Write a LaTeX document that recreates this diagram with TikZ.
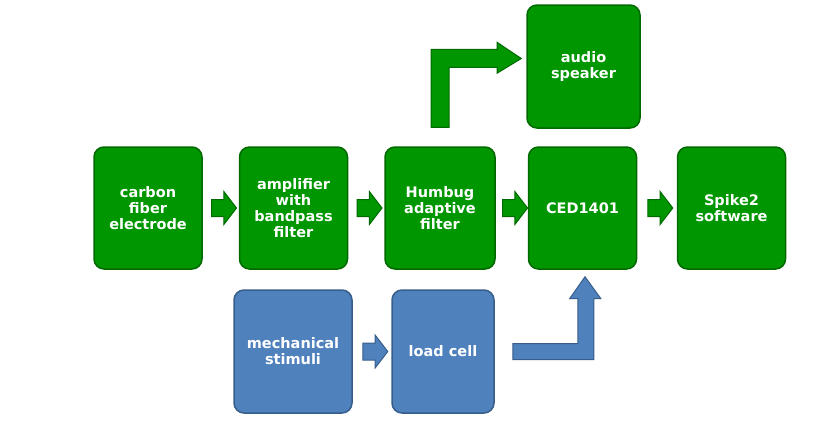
\documentclass[tikz,border=0pt]{standalone}
\usepackage{fontspec}
\setsansfont{DejaVu Sans}
\usetikzlibrary{shapes.arrows,calc}
\definecolor{gfill}{RGB}{0,150,0}
\definecolor{gline}{RGB}{0,105,0}
\definecolor{bfill}{RGB}{79,129,189}
\definecolor{bline}{RGB}{56,93,138}

\begin{document}
\begin{tikzpicture}[
  x=1pt,y=-1pt,
  gbox/.style={draw=gline,fill=gfill,line width=1.5pt,rounded corners=10pt,text=white,
    font=\sffamily\bfseries\fontsize{14.5}{16}\selectfont,align=center,
    minimum width=108pt,minimum height=122pt,inner sep=0pt},
  bbox/.style={gbox,draw=bline,fill=bfill},
  garrow/.style={single arrow,draw=gline,fill=gfill,line width=1pt,minimum height=25pt,
    inner xsep=0pt,inner ysep=8pt,single arrow head extend=8pt,single arrow tip angle=105},
  barrow/.style={garrow,draw=bline,fill=bfill},
  gelbow/.style={draw=gline,fill=gfill,line width=1pt,line join=miter},
  belbow/.style={draw=bline,fill=bfill,line width=1pt,line join=miter}
]
\useasboundingbox (0,0) rectangle (824,424);

% signal chain, top row
\node[gbox] (elec) at (148,208) {carbon\\fiber\\electrode};
\node[gbox] (amp) at (293.5,208) {amplifier\\with\\bandpass\\filter};
\node[gbox,minimum width=110pt] (humbug) at (440,208) {Humbug\\adaptive\\filter};
\node[gbox] (ced) at (582.5,208) {CED1401};
\node[gbox] (spike) at (731.5,208) {Spike2\\software};
\node[gbox,minimum width=113pt,minimum height=123pt] (speaker) at (583.5,66.5) {audio\\speaker};

% stimulus side, bottom row
\node[bbox,minimum width=118pt,minimum height=123pt] (mech) at (293,351.5) {mechanical\\stimuli};
\node[bbox,minimum width=102pt,minimum height=123pt] (load) at (443,351.5) {load cell};

% straight block arrows between boxes
\node[garrow] (a1) at ($(elec.east)!0.5!(amp.west)$) {};
\node[garrow] (a2) at ($(amp.east)!0.5!(humbug.west)$) {};
\node[garrow] (a3) at ($(humbug.east)!0.5!(ced.west)$) {};
\node[garrow] (a4) at ($(ced.east)!0.5!(spike.west)$) {};
\node[barrow] (a5) at ($(mech.east)!0.5!(load.west)$) {};

% elbow arrow humbug -> speaker
\coordinate (gb) at ($(humbug.north)+(0,-19)$);
\draw[gelbow] ($(gb)+(-9,0)$) -- ++(0,-78) -- ++(66,0) -- ++(0,-7)
  -- ($(speaker.west)+(-5,-8)$) -- ($(gb)+(57,-54)$) -- ++(0,-6) -- ($(gb)+(9,-60)$) -- ($(gb)+(9,0)$) -- cycle;

% elbow arrow load cell -> CED1401
\coordinate (bb) at ($(load.east)+(18,0)$);
\draw[belbow] ($(bb)+(0,-8)$) -- ++(65,0) -- ++(0,-45) -- ++(-8,0)
  -- ($(ced.south)+(2.5,7)$) -- ($(bb)+(88,-53)$) -- ++(-7,0) -- ($(bb)+(81,8)$) -- ($(bb)+(0,8)$) -- cycle;

\end{tikzpicture}
\end{document}
